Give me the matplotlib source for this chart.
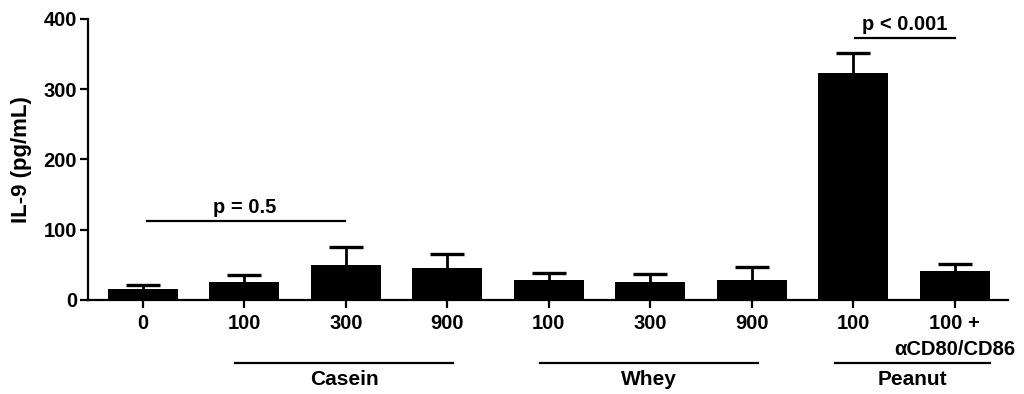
import matplotlib
matplotlib.use("Agg")
import matplotlib.pyplot as plt
import matplotlib.transforms as mtransforms

plt.rcParams['font.family'] = ['Liberation Sans', 'DejaVu Sans']
plt.rcParams['font.weight'] = 'bold'

tick_labels = ["0", "100", "300", "900", "100", "300", "900", "100", "100 +\n\u03b1CD80/CD86"]
means = [16, 26, 50, 45, 28, 26, 28, 323, 41]
errors = [6, 9, 26, 21, 10, 11, 19, 28, 10]
groups = ["Casein", "Whey", "Peanut"]
group_spans = [(1, 3), (4, 6), (7, 8)]
yticks = [0, 100, 200, 300, 400]

FS = 14.5

fig = plt.figure(figsize=(10.24, 3.94), dpi=100)
ax = fig.add_axes([0.086, 0.2386, 0.898, 0.7134])

x = list(range(len(means)))
ax.bar(x, means, width=0.69, color='black', zorder=2)
eb = ax.errorbar(x, means, yerr=[[0]*len(means), errors], fmt='none', ecolor='black',
                 elinewidth=2.0, capsize=12.5, capthick=2.4, zorder=1)
caps = eb.lines[1]
if len(caps) == 2:
    caps[0].set_visible(False)

ax.set_xlim(-0.54, 8.52)
ax.set_ylim(0, 400)
ax.set_yticks(yticks)
ax.set_xticks(x)
ax.set_xticklabels(tick_labels, fontsize=FS, fontweight='bold', linespacing=1.45)
ax.tick_params(axis='y', labelsize=FS, width=1.6, length=6, direction='out', pad=2)
ax.tick_params(axis='x', width=1.6, length=6, direction='out', pad=4)
for lbl in ax.get_yticklabels():
    lbl.set_fontweight('bold')
ax.set_ylabel("IL-9 (pg/mL)", fontsize=16, fontweight='bold', labelpad=8)

for s in ['top', 'right']:
    ax.spines[s].set_visible(False)
for s in ['left', 'bottom']:
    ax.spines[s].set_linewidth(1.6)

# significance brackets
ax.plot([0.04, 1.99], [112, 112], color='black', lw=1.6, clip_on=False)
ax.text(1.0, 118, "p = 0.5", ha='center', va='bottom', fontsize=FS, fontweight='bold')
ax.plot([7.02, 8.0], [373, 373], color='black', lw=1.6, clip_on=False)
ax.text(7.51, 379, "p < 0.001", ha='center', va='bottom', fontsize=FS, fontweight='bold')

# group labels below axis
trans = mtransforms.blended_transform_factory(ax.transData, ax.transAxes)
for name, (a, b) in zip(groups, group_spans):
    x0 = a - 0.09 if name != "Peanut" else a - 0.18
    x1 = b + 0.06 if name != "Peanut" else b + 0.35
    ax.plot([x0, x1], [-0.224, -0.224], color='black', lw=1.6, transform=trans, clip_on=False)
    ax.text((x0 + x1) / 2, -0.248, name, ha='center', va='top', fontsize=15,
            fontweight='bold', transform=trans)

fig.savefig("out.png", dpi=100)
